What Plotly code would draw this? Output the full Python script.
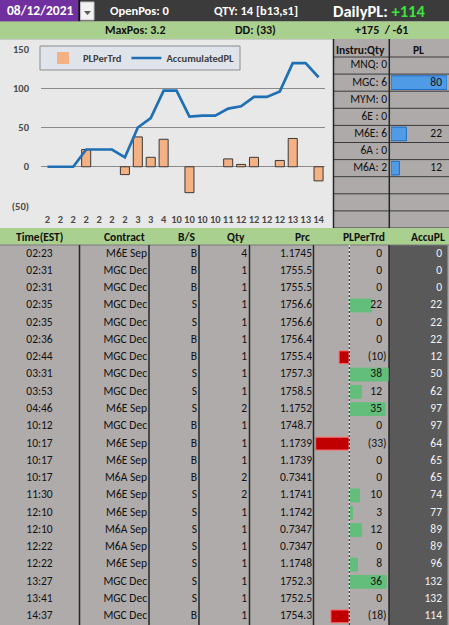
import plotly.graph_objects as go

W, H = 449, 625

# ---------------- data ----------------
trade_times = ["02:23", "02:31", "02:31", "02:35", "02:35", "02:36", "02:44", "03:31", "03:53", "04:46", "10:12",
               "10:17", "10:17", "10:17", "11:30", "12:10", "12:10", "12:22", "12:22", "13:27", "13:41", "14:37"]
contracts = ["M6E Sep", "MGC Dec", "MGC Dec", "MGC Dec", "MGC Dec", "MGC Dec", "MGC Dec", "MGC Dec", "MGC Dec",
             "M6E Sep", "MGC Dec", "M6E Sep", "M6E Sep", "M6A Sep", "M6E Sep", "M6E Sep", "M6A Sep", "M6A Sep",
             "M6E Sep", "MGC Dec", "MGC Dec", "MGC Dec"]
sides = ["B", "B", "B", "S", "S", "B", "B", "S", "S", "S", "B", "B", "B", "B", "S", "S", "S", "S", "S", "S", "S", "B"]
qtys = [4, 1, 1, 1, 1, 1, 1, 1, 1, 2, 1, 1, 1, 2, 2, 1, 1, 1, 1, 1, 1, 1]
prices = ["1.1745", "1755.5", "1755.5", "1756.6", "1756.6", "1756.4", "1755.4", "1757.3", "1758.5", "1.1752",
          "1748.7", "1.1739", "1.1739", "0.7341", "1.1741", "1.1742", "0.7347", "0.7347", "1.1748", "1752.3",
          "1752.5", "1754.3"]
pl_per_trd = [0, 0, 0, 22, 0, 0, -10, 38, 12, 35, 0, -33, 0, 0, 10, 3, 12, 0, 8, 36, 0, -18]
accu_pl = [0, 0, 0, 22, 22, 22, 12, 50, 62, 97, 97, 64, 65, 65, 74, 77, 89, 89, 96, 132, 132, 114]
hour_labels = ["2", "2", "2", "2", "2", "2", "2", "3", "3", "4", "10", "10", "10", "10", "11", "12", "12", "12",
               "12", "13", "13", "14"]
y_tick_vals = [-50, 0, 50, 100, 150]
y_tick_text = ["(50)", "0", "50", "100", "150"]

instru_names = ["MNQ", "MGC", "MYM", "6E ", "M6E", "6A ", "M6A"]
instru_qty = [0, 6, 0, 0, 6, 0, 2]
instru_pl = [0, 80, 0, 0, 22, 0, 12]

trade_date = "08/12/2021"
open_pos = 0
qty_total, qty_buy, qty_sell = 14, 13, 1
daily_pl = 114
max_pos = 3.2
drawdown = -33
best_pl, worst_pl = 175, -61

# ---------------- helpers ----------------
FONT = "Carlito, Calibri, Lato, sans-serif"


def fx(p):
    return p / W


def fy(p):
    return 1 - p / H


def acct(v):
    return "(%d)" % (-v) if v < 0 else str(v)


n = len(trade_times)
rows = list(range(n))

# table geometry (pixels)
TBL_TOP = 245
X3_DOM = (313.3, 389.0)
X3_RANGE = (-35.3, 38.9)
X5_DOM = (391.0, 447.0)
X5_RANGE = (0, 80)
RP_TOP, RP_BOT, RP_ROWS = 57, 228, 10


def px_to_x3(p):
    return X3_RANGE[0] + (p - X3_DOM[0]) / (X3_DOM[1] - X3_DOM[0]) * (X3_RANGE[1] - X3_RANGE[0])


def px_to_x5(p):
    return X5_RANGE[0] + (p - X5_DOM[0]) / (X5_DOM[1] - X5_DOM[0]) * (X5_RANGE[1] - X5_RANGE[0])


fig = go.Figure()

# ---------------- chart ----------------
fig.add_trace(go.Bar(
    x=rows, y=pl_per_trd, name="PLPerTrd", width=0.7,
    marker=dict(color="#f4b183", line=dict(color="#3a3a3a", width=[1 if v else 0 for v in pl_per_trd])),
    xaxis="x", yaxis="y", hoverinfo="skip"))
fig.add_trace(go.Scatter(
    x=rows, y=accu_pl, name="AccumulatedPL", mode="lines",
    line=dict(color="#1f6fb5", width=2.7),
    xaxis="x", yaxis="y", hoverinfo="skip"))

# ---------------- trade table text ----------------


def text_col(xpx, texts, pos="middle left", color="#111111"):
    fig.add_trace(go.Scatter(
        x=[xpx] * n, y=rows, text=texts, mode="text", textposition=pos,
        textfont=dict(family=FONT, size=11.5, color=color),
        xaxis="x2", yaxis="y2", showlegend=False, hoverinfo="skip"))


text_col(39.5, trade_times, pos="middle center")
text_col(147, contracts)
text_col(197, sides)
text_col(247, [str(q) for q in qtys])
text_col(312, prices)

# PLPerTrd data bars
bar_cols = ["#63be7b" if v > 0 else "#c00000" for v in pl_per_trd]
bar_line = ["#63be7b" if v > 0 else "#ff6b6b" for v in pl_per_trd]
bar_lw = [0 if v == 0 else 1 for v in pl_per_trd]
fig.add_trace(go.Bar(
    x=pl_per_trd, y=rows, orientation="h", width=0.74,
    marker=dict(color=bar_cols, line=dict(color=bar_line, width=bar_lw)),
    xaxis="x3", yaxis="y2", showlegend=False, hoverinfo="skip"))
fig.add_trace(go.Scatter(
    x=[px_to_x3(386.5) if v < 0 else px_to_x3(382) for v in pl_per_trd], y=rows,
    text=[acct(v) for v in pl_per_trd], mode="text", textposition="middle left",
    textfont=dict(family=FONT, size=11.5, color="#111111"),
    xaxis="x3", yaxis="y2", showlegend=False, hoverinfo="skip"))

# AccuPL column
text_col(442, [acct(v) for v in accu_pl], color="#f2f2f2")

# ---------------- instrument panel ----------------
ri = list(range(len(instru_names)))
fig.add_trace(go.Scatter(
    x=[387] * len(ri), y=ri, text=["%s: %d" % (nm, q) for nm, q in zip(instru_names, instru_qty)],
    mode="text", textposition="middle left",
    textfont=dict(family=FONT, size=11.5, color="#111111"),
    xaxis="x4", yaxis="y4", showlegend=False, hoverinfo="skip"))
fig.add_trace(go.Bar(
    x=instru_pl, y=ri, orientation="h", width=0.8,
    marker=dict(color="#4f9be6", line=dict(color="#1c6cc8", width=[1 if v else 0 for v in instru_pl])),
    xaxis="x5", yaxis="y4", showlegend=False, hoverinfo="skip"))
fig.add_trace(go.Scatter(
    x=[px_to_x5(442)] * len(ri), y=ri, text=[str(v) if v else "" for v in instru_pl],
    mode="text", textposition="middle left",
    textfont=dict(family=FONT, size=11.5, color="#111111"),
    xaxis="x5", yaxis="y4", showlegend=False, hoverinfo="skip"))

# ---------------- shapes (background / cells) ----------------
shapes = []


def rect(x0, y0, x1, y1, fill, line=None, lw=0, layer="below"):
    shapes.append(dict(type="rect", xref="paper", yref="paper",
                       x0=fx(x0), x1=fx(x1), y0=fy(y1), y1=fy(y0),
                       fillcolor=fill, line=dict(color=line or fill, width=lw), layer=layer))


def vline(x, y0, y1, color, width=1, layer="below", dash="solid"):
    shapes.append(dict(type="line", xref="paper", yref="paper", x0=fx(x), x1=fx(x), y0=fy(y1), y1=fy(y0),
                       line=dict(color=color, width=width, dash=dash), layer=layer))


def hline(y, x0, x1, color, width=1, layer="below"):
    shapes.append(dict(type="line", xref="paper", yref="paper", x0=fx(x0), x1=fx(x1), y0=fy(y), y1=fy(y),
                       line=dict(color=color, width=width), layer=layer))


# top bar
rect(0, 0, W, 21.5, "#3b3b3b")
rect(0, 0, 78.5, 21.5, "#7030a0")
vline(79.2, 0, 21.5, "#111111", 1.5)
rect(80.5, 2, 94, 20, "#f2f2f2", "#bfbfbf", 1)
shapes.append(dict(type="path", xref="paper", yref="paper",
                   path="M %f %f L %f %f L %f %f Z" % (fx(84), fy(11), fx(91), fy(11), fx(87.5), fy(15)),
                   fillcolor="#595959", line=dict(width=0), layer="below"))
# green summary bar
rect(0, 21.5, W, 39, "#a9d08e")
# chart area
rect(0, 39, 333, 228, "#e8e8e8")
hline(39.5, 0, 333, "#c8c8c8", 1)
# instrument panel
rect(333, 39, W, 228, "#aeaaaa")
for k in range(RP_ROWS + 1):
    yy = RP_TOP + k * (RP_BOT - RP_TOP) / RP_ROWS
    hline(yy, 333, W, "#3a3a3a", 1)
vline(333.5, 39, 228, "#262626", 1.5)
vline(389.3, 39, 228, "#262626", 1.5)
# table header
rect(0, 228, W, TBL_TOP, "#a9d08e")
# table body
rect(0, TBL_TOP, 389, H, "#afabab")
rect(389, TBL_TOP, W, H, "#595959")
rect(447.5, TBL_TOP, W, H, "#a6a6a6")
hline(TBL_TOP, 0, W, "#7a7a7a", 1)
for xb in [79.5, 149, 199, 249.5, 313.5, 389]:
    vline(xb, TBL_TOP, H, "#262626", 1.5)
# legend box
rect(40, 46, 240, 70, "#dfe4eb", "#8c8c8c", 1, layer="above")
# data bar axis (dashed)
shapes.append(dict(type="line", xref="x3", yref="paper", x0=0, x1=0, y0=0, y1=fy(TBL_TOP),
                   line=dict(color="#ffffff", width=1), layer="above"))
shapes.append(dict(type="line", xref="x3", yref="paper", x0=0, x1=0, y0=0, y1=fy(TBL_TOP),
                   line=dict(color="#111111", width=1, dash="2px,2px"), layer="above"))

# ---------------- annotations ----------------
ann = []


def label(x, y, text, size=11, color="#111111", anchor="center", bold=True):
    ann.append(dict(x=fx(x), y=fy(y), xref="paper", yref="paper", text=text, showarrow=False,
                    xanchor=anchor, yanchor="middle",
                    font=dict(family=FONT, size=size, color=color, weight="bold" if bold else "normal")))


label(39.5, 11, trade_date, 13.5, "#ffffff")
label(140, 11, "OpenPos: %d" % open_pos, 12.5, "#ffffff")
label(256, 11, "QTY: %d [b%d,s%d]" % (qty_total, qty_buy, qty_sell), 12.5, "#ffffff")
label(379, 11, "DailyPL: <span style='color:#3ee23e'>%+d</span>" % daily_pl, 16.5, "#ffffff")
label(135, 30.5, "MaxPos: %.1f" % max_pos, 12, "#111111")
label(255.5, 30.5, "DD: %s" % acct(drawdown), 12, "#111111")
label(381, 30.5, "%+d&nbsp; / %d" % (best_pl, worst_pl), 12, "#111111")

label(387, 49.5, "Instru:Qty", 11.5, "#111111", "right")
label(418, 49.5, "PL", 11.5, "#111111")

hy = 236.5
label(39.5, hy, "Time(EST)", 11.5)
label(147, hy, "Contract", 11.5, anchor="right")
label(197, hy, "B/S", 11.5, anchor="right")
label(247, hy, "Qty", 11.5, anchor="right")
label(312, hy, "Prc", 11.5, anchor="right")
label(387, hy, "PLPerTrd", 11.5, anchor="right")
label(447, hy, "AccuPL", 11.5, anchor="right")

# ---------------- layout ----------------
hidden = dict(visible=False, showgrid=False, zeroline=False, fixedrange=True, automargin=False)
axis_font = dict(family=FONT, size=10.5, color="#4a4a4a", weight="bold")
fig.update_layout(
    width=W, height=H, margin=dict(l=0, r=0, t=0, b=0, pad=0, autoexpand=False),
    paper_bgcolor="#d0d0d0", plot_bgcolor="rgba(0,0,0,0)",
    font=dict(family=FONT, size=11, color="#3a3a3a"),
    bargap=0.3,
    shapes=shapes, annotations=ann,
    showlegend=True,
    legend=dict(orientation="h", x=fx(43), y=fy(58), xanchor="left", yanchor="middle",
                bgcolor="rgba(0,0,0,0)", borderwidth=0,
                font=dict(family=FONT, size=10.5, color="#404040", weight="bold"),
                itemwidth=30),
    xaxis=dict(domain=[fx(41), fx(325)], range=[-0.5, n - 0.5], tickvals=rows, ticktext=hour_labels,
               tickangle=0, showgrid=False, zeroline=False, showline=False, ticks="", anchor="y",
               automargin=False, tickfont=axis_font, ticklabelstandoff=5),
    yaxis=dict(domain=[fy(206), fy(49)], range=[-50, 150], tickvals=y_tick_vals, ticktext=y_tick_text,
               showgrid=True, gridcolor="#8a8a8a", gridwidth=1, zeroline=False, showline=False, ticks="",
               anchor="x", automargin=False, tickfont=axis_font, ticklabelstandoff=11),
    xaxis2=dict(domain=[0, 1], range=[0, W], anchor="y2", **hidden),
    yaxis2=dict(domain=[0, fy(TBL_TOP)], range=[n - 0.5, -0.5], anchor="x2", **hidden),
    xaxis3=dict(domain=[fx(X3_DOM[0]), fx(X3_DOM[1])], range=list(X3_RANGE), anchor="y2", **hidden),
    xaxis4=dict(domain=[0, 1], range=[0, W], anchor="y4", **hidden),
    yaxis4=dict(domain=[fy(RP_BOT), fy(RP_TOP)], range=[RP_ROWS - 0.5, -0.5], anchor="x4", **hidden),
    xaxis5=dict(domain=[fx(X5_DOM[0]), fx(X5_DOM[1])], range=list(X5_RANGE), anchor="y4", **hidden),
)

fig.write_html("out.html", config={"displayModeBar": False},
               post_script="document.body.style.margin='0';document.body.style.overflow='hidden';")
